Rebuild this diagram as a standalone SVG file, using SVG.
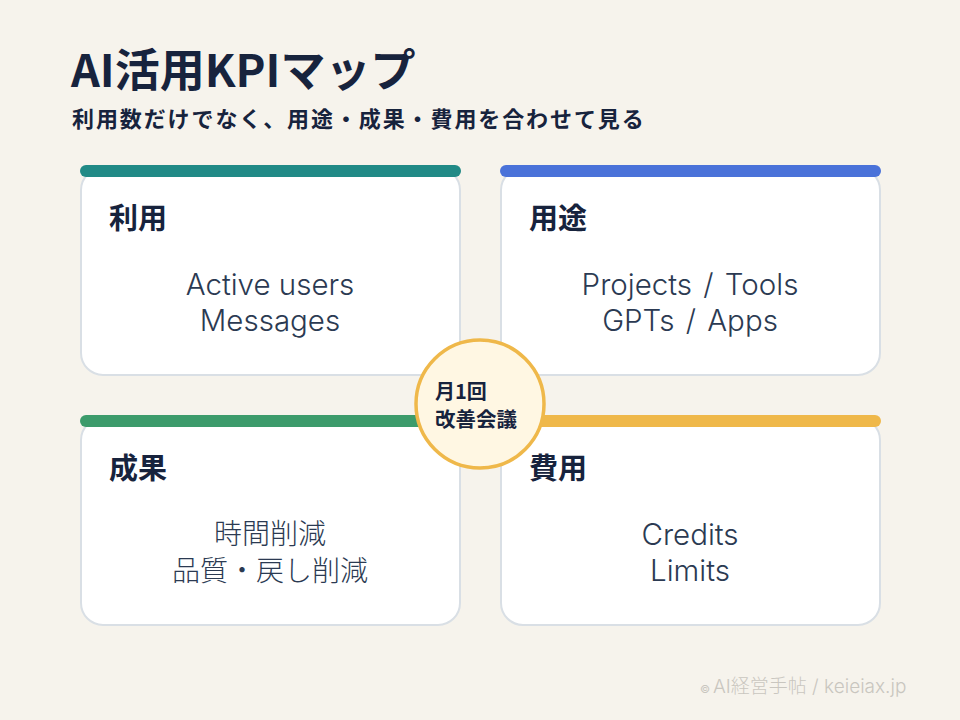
<svg xmlns="http://www.w3.org/2000/svg" width="960" height="720" viewBox="0 0 960 720">
<style>
.jp{font-family:"Noto Sans CJK JP","Noto Sans",sans-serif}
.lat{font-family:Inter,"Noto Sans CJK JP",sans-serif}
.card{fill:#ffffff;stroke:#d9dfe5;stroke-width:2}
.ttl{font-size:29px;font-weight:700;fill:#17233d}
.body{font-weight:300;fill:#2b3a52;text-anchor:middle}
.body.lat{font-size:29.5px}
.body.jp{font-size:28px}
</style>
<rect width="960" height="720" fill="#f6f3ec"/>
<g id="header" class="jp">
<text x="71" y="87" font-size="45" font-weight="700" fill="#17233d">AI活用KPIマップ</text>
<text x="72" y="127" font-size="22" font-weight="700" fill="#17233d" letter-spacing="1.9">利用数だけでなく、用途・成果・費用を合わせて見る</text>
</g>
<g id="connectors"></g>
<g id="node-usage">
<rect class="card" x="81" y="168" width="379" height="207" rx="22"/>
<rect x="80" y="165" width="381" height="12" rx="6" fill="#218a86"/>
<text class="ttl jp" x="109" y="229">利用</text>
<text class="body lat" x="270" y="295">Active users</text>
<text class="body lat" x="270" y="331">Messages</text>
</g>
<g id="node-purpose">
<rect class="card" x="501" y="168" width="379" height="207" rx="22"/>
<rect x="500" y="165" width="381" height="12" rx="6" fill="#4a72d9"/>
<text class="ttl jp" x="529" y="229">用途</text>
<text class="body lat" x="690" y="295" word-spacing="3">Projects / Tools</text>
<text class="body lat" x="690" y="331" word-spacing="3">GPTs / Apps</text>
</g>
<g id="node-outcome">
<rect class="card" x="81" y="418" width="379" height="207" rx="22"/>
<rect x="80" y="415" width="381" height="12" rx="6" fill="#3c9b6b"/>
<text class="ttl jp" x="109" y="479">成果</text>
<text class="body jp" x="270" y="544">時間削減</text>
<text class="body jp" x="270" y="581">品質・戻し削減</text>
</g>
<g id="node-cost">
<rect class="card" x="501" y="418" width="379" height="207" rx="22"/>
<rect x="500" y="415" width="381" height="12" rx="6" fill="#efb84a"/>
<text class="ttl jp" x="529" y="479">費用</text>
<text class="body lat" x="690" y="545">Credits</text>
<text class="body lat" x="690" y="581">Limits</text>
</g>
<g id="node-meeting" class="jp">
<circle cx="480" cy="404" r="64" fill="#fff7e3" stroke="#efb84a" stroke-width="3.5"/>
<text x="435" y="399" font-size="20" font-weight="700" fill="#17233d">月1回</text>
<text x="435" y="427" font-size="20.5" font-weight="700" fill="#17233d">改善会議</text>
</g>
<g id="footer" class="lat" fill="#c9c6bf">
<text x="700" y="693" font-size="11">©</text>
<text x="713" y="693" font-size="19" font-weight="300" xml:space="preserve">AI経営手帖 / keieiax.jp</text>
</g>
</svg>
